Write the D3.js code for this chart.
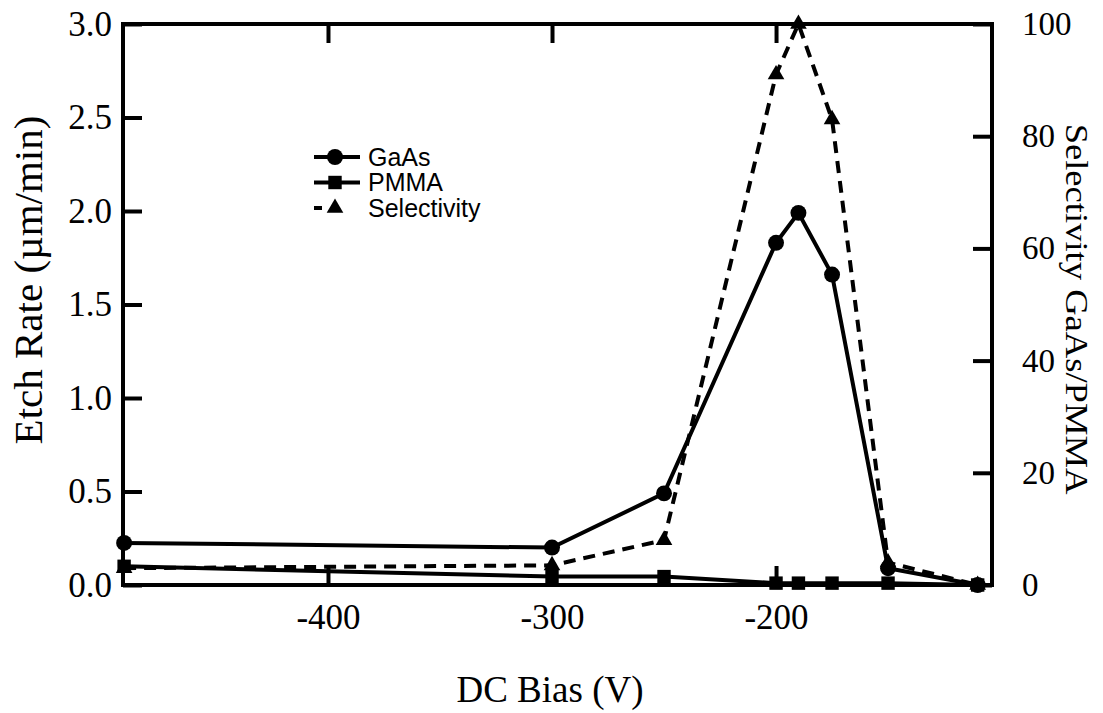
<!DOCTYPE html>
<html><head><meta charset="utf-8">
<script src="https://cdn.jsdelivr.net/npm/d3@7"></script>
<style>
body{margin:0;background:#fff;}
svg{display:block;}
</style></head>
<body>
<svg id="chart" width="1103" height="713"></svg>
<script>
// Data (DC bias in V)
const bias = [-491, -300, -250, -200, -190, -175, -150, -110];
const gaas = [0.225, 0.20, 0.49, 1.83, 1.99, 1.66, 0.09, 0.0];
const pmma = [0.10, 0.045, 0.045, 0.01, 0.01, 0.01, 0.01, 0.0];
const selectivity = [3.0, 3.5, 8.0, 91, 100, 83, 4.0, 0.0];
const xTicks = [-400, -300, -200];
const yLeftTicks = [0, 0.5, 1.0, 1.5, 2.0, 2.5, 3.0];
const yRightTicks = [0, 20, 40, 60, 80, 100];

const svg = d3.select("#chart");
const L = 123, R = 992, T = 24, B = 585;
const x = d3.scaleLinear().domain([-491.5, -103.6]).range([L, R]);
const yL = d3.scaleLinear().domain([0, 3]).range([B, T]);
const yR = d3.scaleLinear().domain([0, 100]).range([B, T]);

const serif = "Liberation Serif";
const sans = "Liberation Sans";
const tickSize = 19;

// Axes
const gB = svg.append("g").attr("transform", `translate(0,${B})`)
  .call(d3.axisBottom(x).tickValues(xTicks).tickSize(-tickSize).tickPadding(19).tickFormat(d => "-" + Math.abs(d)));
const gT = svg.append("g").attr("transform", `translate(0,${T})`)
  .call(d3.axisTop(x).tickValues(xTicks).tickSize(-tickSize).tickFormat(""));
const gL = svg.append("g").attr("transform", `translate(${L},0)`)
  .call(d3.axisLeft(yL).tickValues(yLeftTicks).tickSize(-tickSize).tickPadding(11).tickFormat(d3.format(".1f")));
const gR = svg.append("g").attr("transform", `translate(${R},0)`)
  .call(d3.axisRight(yR).tickValues(yRightTicks).tickSize(-tickSize).tickPadding(30).tickFormat(d3.format("d")));

[gB, gT, gL, gR].forEach(g => {
  g.attr("font-family", serif).attr("font-size", 35);
  g.select(".domain").remove();
  g.selectAll(".tick line").attr("stroke", "#000").attr("stroke-width", 4);
  g.selectAll(".tick text").attr("fill", "#000").attr("font-family", serif)
    .style("font-family", serif);
});
gR.attr("font-size", 33);

// Frame
svg.append("rect").attr("x", L).attr("y", T).attr("width", R - L).attr("height", B - T)
  .attr("fill", "none").attr("stroke", "#000").attr("stroke-width", 4);

// Lines
const lineL = d3.line().x((d, i) => x(bias[i])).y(d => yL(d));
const lineR = d3.line().x((d, i) => x(bias[i])).y(d => yR(d));

svg.append("path").datum(selectivity).attr("d", lineR).attr("fill", "none")
  .attr("stroke", "#000").attr("stroke-width", 4).attr("stroke-dasharray", "12,8");
svg.append("path").datum(pmma).attr("d", lineL).attr("fill", "none")
  .attr("stroke", "#000").attr("stroke-width", 4);
svg.append("path").datum(gaas).attr("d", lineL).attr("fill", "none")
  .attr("stroke", "#000").attr("stroke-width", 4);

// Markers
const tri = d3.symbol().type(d3.symbolTriangle).size(120);
const sq = d3.symbol().type(d3.symbolSquare).size(180);
const circ = d3.symbol().type(d3.symbolCircle).size(200);

svg.append("g").selectAll("path").data(selectivity).join("path")
  .attr("d", tri).attr("transform", (d, i) => `translate(${x(bias[i])},${yR(d)})`).attr("fill", "#000");
svg.append("g").selectAll("path").data(pmma).join("path")
  .attr("d", sq).attr("transform", (d, i) => `translate(${x(bias[i])},${yL(d)})`).attr("fill", "#000");
svg.append("g").selectAll("path").data(gaas).join("path")
  .attr("d", circ).attr("transform", (d, i) => `translate(${x(bias[i])},${yL(d)})`).attr("fill", "#000");

// Axis titles
svg.append("text").attr("x", 550).attr("y", 702).attr("text-anchor", "middle")
  .attr("font-family", serif).attr("font-size", 37).attr("fill", "#000").text("DC Bias (V)");
svg.append("text").attr("transform", "translate(42,280) rotate(-90)").attr("text-anchor", "middle")
  .attr("font-family", serif).attr("font-size", 41).attr("fill", "#000").text("Etch Rate (\u00b5m/min)");
svg.append("text").attr("transform", "translate(1066,309) rotate(90) scale(1.18,1)").attr("text-anchor", "middle")
  .attr("font-family", serif).attr("font-size", 31).attr("fill", "#000").text("Selectivity GaAs/PMMA");

// Legend
const legend = [
  {name: "GaAs", sym: circ, x2: 48, dash: null},
  {name: "PMMA", sym: sq, x2: 48, dash: null},
  {name: "Selectivity", sym: tri, x2: 10, dash: null}
];
const lg = svg.append("g").attr("transform", "translate(312,157)");
legend.forEach((d, i) => {
  const g = lg.append("g").attr("transform", `translate(0,${i * 25.5})`);
  g.append("line").attr("x1", 2).attr("x2", d.x2).attr("y1", 0).attr("y2", 0)
    .attr("stroke", "#000").attr("stroke-width", 4).attr("stroke-dasharray", d.dash);
  g.append("path").attr("d", d.sym).attr("transform", "translate(23,0)").attr("fill", "#000");
  g.append("text").attr("x", 56).attr("y", 0).attr("dy", "0.35em")
    .attr("font-family", sans).attr("font-size", 25).attr("fill", "#000").text(d.name);
});
</script>
</body></html>
